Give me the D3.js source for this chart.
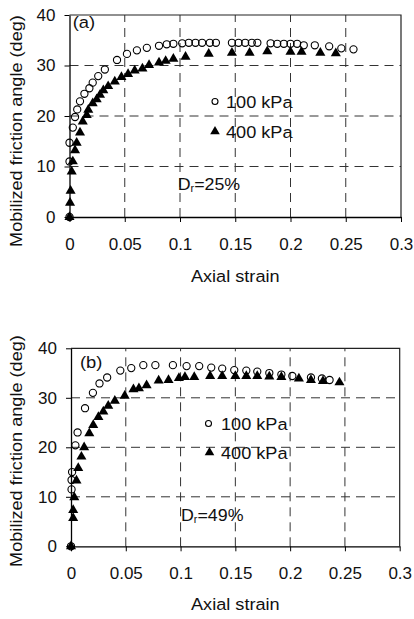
<!DOCTYPE html>
<html>
<head>
<meta charset="utf-8">
<script src="https://cdn.jsdelivr.net/npm/d3@7"></script>
<style>
  html, body { margin: 0; padding: 0; background: #fff; }
  svg { display: block; }
  text { font-family: "Liberation Sans", Arial, sans-serif; fill: #111; }
</style>
</head>
<body>
<svg id="chart" width="414" height="619"></svg>
<script>
// ---------- data ----------
const xTicks = [0, 0.05, 0.1, 0.15, 0.2, 0.25, 0.3];
const xTickLabels = ["0", "0.05", "0.1", "0.15", "0.2", "0.25", "0.3"];
const yTicks = [0, 10, 20, 30, 40];
const yTickLabels = ["0", "10", "20", "30", "40"];
const seriesNames = ["100 kPa", "400 kPa"];
const panelLabels = ["(a)", "(b)"];
const densityValues = ["25%", "49%"];
const xTitle = "Axial strain";
const yTitle = "Mobilized friction angle (deg)";

// Panel (a), 100 kPa
const strainA100 = [0, 0, 0, 0.003, 0.005, 0.007, 0.0095, 0.0135, 0.018, 0.021, 0.026, 0.032, 0.043, 0.052, 0.061, 0.070, 0.081, 0.088, 0.094, 0.102, 0.108, 0.114, 0.120, 0.127, 0.1325, 0.147, 0.153, 0.159, 0.165, 0.170, 0.182, 0.188, 0.194, 0.200, 0.206, 0.212, 0.222, 0.235, 0.246, 0.257];
const angleA100  = [0, 11.0, 14.7, 17.7, 19.8, 21.3, 22.9, 24.4, 25.5, 26.6, 27.9, 29.2, 31.1, 32.3, 33.0, 33.5, 33.9, 34.2, 34.3, 34.4, 34.5, 34.5, 34.5, 34.5, 34.5, 34.5, 34.5, 34.5, 34.5, 34.5, 34.4, 34.3, 34.3, 34.3, 34.3, 34.0, 34.0, 33.8, 33.4, 33.2];
// Panel (a), 400 kPa
const strainA400 = [0, 0.0005, 0.001, 0.002, 0.003, 0.005, 0.0065, 0.0095, 0.012, 0.0156, 0.017, 0.021, 0.0246, 0.0276, 0.0306, 0.035, 0.041, 0.047, 0.053, 0.059, 0.066, 0.072, 0.081, 0.087, 0.094, 0.105, 0.126, 0.147, 0.163, 0.179, 0.200, 0.210, 0.227, 0.241];
const angleA400  = [0, 2.8, 5.2, 9.0, 11.0, 13.2, 14.7, 16.7, 18.9, 20.2, 21.2, 22.5, 23.3, 24.2, 25.1, 25.9, 26.8, 27.7, 28.3, 29.0, 29.4, 30.1, 30.6, 30.9, 31.3, 31.7, 32.3, 32.5, 32.5, 32.8, 32.7, 32.7, 32.5, 32.4];
// Panel (b), 100 kPa
const strainB100 = [0, 0.0005, 0.0005, 0.001, 0.004, 0.006, 0.0128, 0.020, 0.026, 0.033, 0.045, 0.055, 0.066, 0.077, 0.093, 0.1055, 0.117, 0.128, 0.138, 0.149, 0.160, 0.170, 0.181, 0.192, 0.202, 0.219, 0.229, 0.236];
const angleB100  = [0, 11.5, 13.4, 15.0, 20.4, 23.0, 27.9, 31.0, 32.9, 34.1, 35.5, 36.0, 36.6, 36.6, 36.6, 36.4, 36.4, 36.1, 35.9, 35.6, 35.5, 35.3, 35.0, 34.7, 34.4, 34.1, 33.9, 33.6];
// Panel (b), 400 kPa
const strainB400 = [0, 0.002, 0.002, 0.003, 0.005, 0.0066, 0.0095, 0.012, 0.0167, 0.0203, 0.025, 0.0295, 0.034, 0.040, 0.049, 0.057, 0.062, 0.069, 0.080, 0.089, 0.0985, 0.104, 0.1125, 0.127, 0.138, 0.150, 0.160, 0.170, 0.181, 0.192, 0.208, 0.219, 0.230, 0.245];
const angleB400  = [0, 5.7, 7.3, 9.9, 13.3, 15.8, 18.1, 20.0, 22.8, 24.5, 26.1, 27.2, 28.4, 29.4, 30.4, 31.7, 31.9, 32.5, 33.5, 33.6, 34.0, 34.2, 34.2, 34.4, 34.4, 34.4, 34.4, 34.4, 34.3, 34.2, 33.9, 33.6, 33.4, 33.1];

// ---------- drawing ----------
const svg = d3.select("#chart");
svg.append("rect").attr("width", 414).attr("height", 619).attr("fill", "#fff");

const panels = [
  { left: 69.5, right: 401, top: 15, bottom: 217, label: panelLabels[0], dr: densityValues[0],
    s100: strainA100, a100: angleA100, s400: strainA400, a400: angleA400,
    labelPos: [72.7, 28], legendPos: [[215, 101.5], [215, 131.5]], legendTextX: 226,
    drPos: [177.7, 190], xTitleY: 281.5, yTitleCenter: 131 },
  { left: 71, right: 399.7, top: 348.3, bottom: 546.3, label: panelLabels[1], dr: densityValues[1],
    s100: strainB100, a100: angleB100, s400: strainB400, a400: angleB400,
    labelPos: [80, 368], legendPos: [[208.5, 423.5], [209.5, 452.5]], legendTextX: 221,
    drPos: [181, 521], xTitleY: 610, yTitleCenter: 451 }
];

const tri = d3.symbol().type(d3.symbolTriangle).size(44);
const triLegend = d3.symbol().type(d3.symbolTriangle).size(40);

function scaledText(g, x, y, str, size, sx, anchor, rotate) {
  const t = g.append("text")
    .attr("transform", `translate(${x},${y})` + (rotate ? ` rotate(${rotate})` : "") + ` scale(${sx},1)`)
    .attr("font-size", size)
    .attr("text-anchor", anchor || "start")
    .text(str);
  return t;
}

panels.forEach(p => {
  const x = d3.scaleLinear().domain([0, 0.3]).range([p.left, p.right]);
  const y = d3.scaleLinear().domain([0, 40]).range([p.bottom, p.top]);
  const g = svg.append("g");

  // gridlines
  g.append("g").selectAll("line").data(yTicks.filter(v => v > 0 && v < 40)).join("line")
    .attr("x1", p.left).attr("x2", p.right)
    .attr("y1", d => y(d)).attr("y2", d => y(d))
    .attr("stroke", "#333").attr("stroke-width", 1).attr("stroke-dasharray", "9,6");
  g.append("g").selectAll("line").data(xTicks.filter(v => v > 0 && v < 0.3)).join("line")
    .attr("x1", d => x(d)).attr("x2", d => x(d))
    .attr("y1", p.bottom).attr("y2", p.top)
    .attr("stroke", "#333").attr("stroke-width", 1).attr("stroke-dasharray", "9,6");

  // top & right border
  g.append("path")
    .attr("d", `M${p.left},${p.top}H${p.right}V${p.bottom}`)
    .attr("fill", "none").attr("stroke", "#222").attr("stroke-width", 1.2);

  // axes
  const xAxis = d3.axisBottom(x).tickValues(xTicks)
    .tickFormat((d, i) => xTickLabels[i]).tickSize(5).tickSizeOuter(0).tickPadding(16);
  const gx = g.append("g").attr("transform", `translate(0,${p.bottom})`).call(xAxis);
  const yAxis = d3.axisLeft(y).tickValues(yTicks)
    .tickFormat((d, i) => yTickLabels[i]).tickSize(5).tickSizeOuter(0).tickPadding(9);
  const gy = g.append("g").attr("transform", `translate(${p.left},0)`).call(yAxis);
  [gx, gy].forEach(a => {
    a.select(".domain").attr("stroke", "#000").attr("stroke-width", 1.3);
    a.selectAll(".tick line").attr("stroke", "#000").attr("stroke-width", 1);
    a.selectAll(".tick text").attr("font-size", 17)
      .attr("font-family", "Liberation Sans, Arial, sans-serif").attr("fill", "#111");
  });

  // titles
  scaledText(g, (p.left + p.right) / 2, p.xTitleY, xTitle, 16.5, 1.1, "middle");
  scaledText(g, 21.7, p.yTitleCenter, yTitle, 16.5, 1.1, "middle", -90);

  // data: circles (100 kPa), triangles (400 kPa)
  const d100 = p.s100.map((s, i) => [s, p.a100[i]]);
  const d400 = p.s400.map((s, i) => [s, p.a400[i]]);
  g.append("g").selectAll("circle").data(d100).join("circle")
    .attr("cx", d => x(d[0])).attr("cy", d => y(d[1])).attr("r", 3.6)
    .attr("fill", "none").attr("stroke", "#000").attr("stroke-width", 1.1);
  g.append("g").selectAll("path").data(d400).join("path")
    .attr("d", tri)
    .attr("transform", d => `translate(${x(d[0])},${y(d[1])})`)
    .attr("fill", "#000");

  // panel label
  scaledText(g, p.labelPos[0], p.labelPos[1], p.label, 17, 1.08, "start");

  // legend
  g.append("circle").attr("cx", p.legendPos[0][0]).attr("cy", p.legendPos[0][1]).attr("r", 3)
    .attr("fill", "none").attr("stroke", "#000").attr("stroke-width", 1.1);
  g.append("path").attr("d", triLegend)
    .attr("transform", `translate(${p.legendPos[1][0]},${p.legendPos[1][1]})`).attr("fill", "#000");
  scaledText(g, p.legendTextX, p.legendPos[0][1] + 6, seriesNames[0], 16.5, 1.1, "start");
  scaledText(g, p.legendTextX, p.legendPos[1][1] + 6, seriesNames[1], 16.5, 1.1, "start");

  // D_r label
  const t = scaledText(g, p.drPos[0], p.drPos[1], "", 16.5, 1.08, "start");
  t.append("tspan").text("D");
  t.append("tspan").attr("font-size", 10).attr("dy", 2).text("r");
  t.append("tspan").attr("dy", -2).text("=" + p.dr);
});
</script>
</body>
</html>
